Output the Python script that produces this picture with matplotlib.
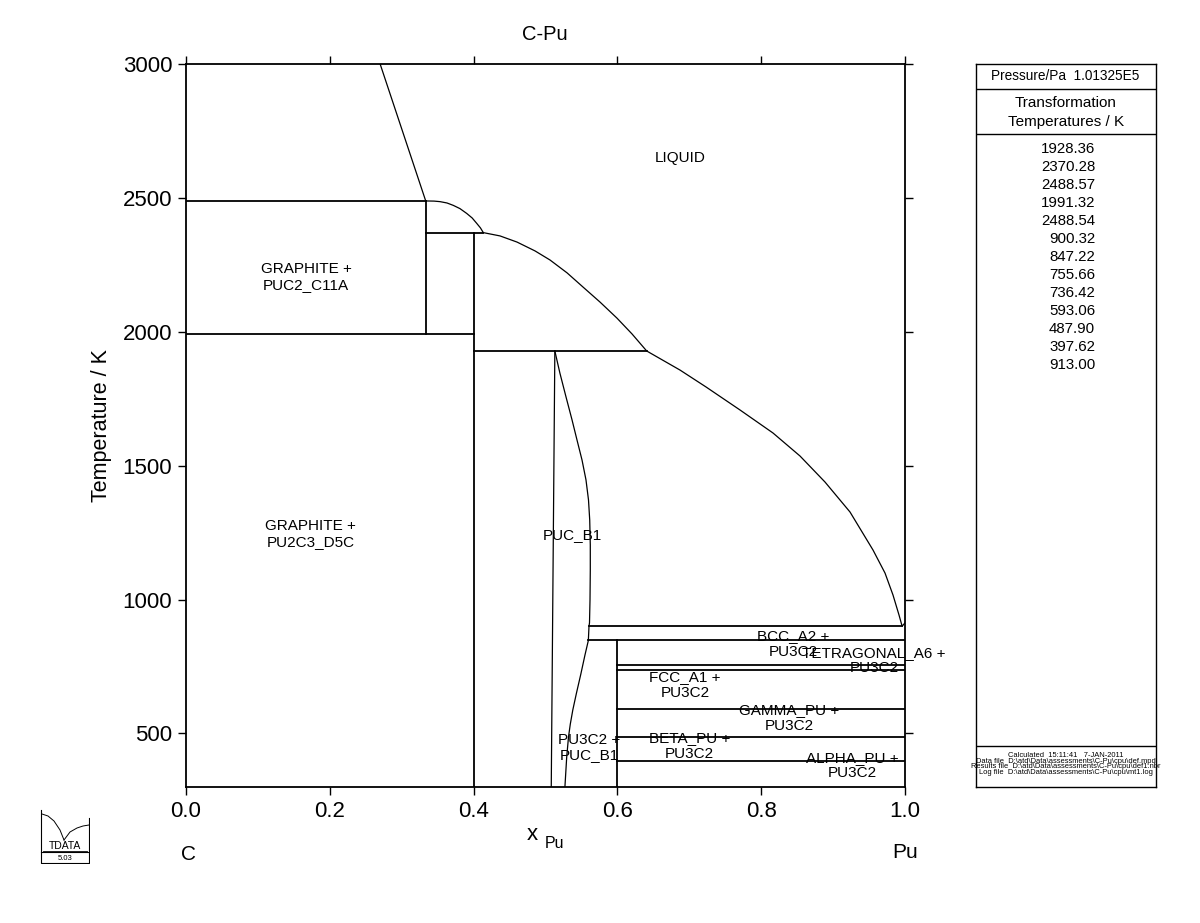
#!/usr/bin/env python3
"""C-Pu phase diagram, redrawn from a Thermo-Calc style plot."""
import matplotlib
matplotlib.use('Agg')
import matplotlib.pyplot as plt

plt.rcParams['font.family'] = ['Liberation Sans', 'DejaVu Sans']

W, H = 1200, 923

# --- phase boundaries (x_Pu, T/K) ---
liq_graphite_x = [0.270, 0.3334]
liq_graphite_T = [3000, 2488.57]

liq_puc2_x = [0.3334, 0.345, 0.3533, 0.3630, 0.3718, 0.3810, 0.3904, 0.3980, 0.4043, 0.4095, 0.4135]
liq_puc2_T = [2488.57, 2488, 2486, 2481, 2472, 2460, 2442, 2425, 2405, 2388, 2370.28]

liq_main_x = [0.4135, 0.4367, 0.4604, 0.4854, 0.5063, 0.530, 0.5522, 0.5758, 0.5994,
              0.6203, 0.6407, 0.6871, 0.7232, 0.7705, 0.8164, 0.8540, 0.8887,
              0.9235, 0.9555, 0.9722, 0.9833, 0.9917, 0.996, 1.0]
liq_main_T = [2370.28, 2358, 2335, 2302, 2268, 2220, 2167, 2111, 2051,
              1992, 1928.36, 1857, 1794, 1708, 1622, 1536, 1439,
              1327, 1185, 1099, 1017, 942, 900.32, 913.0]

puc_left_x = [0.513, 0.508]
puc_left_T = [1928.36, 300]

puc_right_x = [0.513, 0.520, 0.5285, 0.5369, 0.5438, 0.5508, 0.5563, 0.5598, 0.5615,
               0.5623, 0.5623, 0.5619, 0.5612, 0.5605, 0.5596, 0.5549, 0.549, 0.543,
               0.538, 0.5345, 0.532, 0.5295, 0.527]
puc_right_T = [1928.36, 1846, 1757, 1671, 1596, 1521, 1447, 1372, 1297,
               1204, 1111, 999, 913, 900.32, 847.22, 793, 720, 650,
               588, 535, 487, 412, 300]

# invariant lines: (x_start, x_end, T)
hlines = [
    (0.0, 0.3334, 2488.57),
    (0.3334, 0.4135, 2370.28),
    (0.0, 0.4, 1991.32),
    (0.4, 0.6407, 1928.36),
    (0.5605, 0.996, 900.32),
    (0.5596, 1.0, 847.22),
    (0.6, 1.0, 755.66),
    (0.6, 1.0, 736.42),
    (0.6, 1.0, 593.06),
    (0.6, 1.0, 487.90),
    (0.6, 1.0, 397.62),
]
# compound lines: (x, T_low, T_high)
vlines = [
    (0.3334, 1991.32, 2488.57),
    (0.4, 300, 2370.28),
    (0.6, 300, 847.22),
]

# phase field labels
labels = ['LIQUID', 'GRAPHITE +\nPUC2_C11A', 'GRAPHITE +\nPU2C3_D5C', 'PUC_B1',
          'BCC_A2 +\nPU3C2', 'TETRAGONAL_A6 +\nPU3C2', 'FCC_A1 +\nPU3C2',
          'GAMMA_PU +\nPU3C2', 'PU3C2 +\nPUC_B1', 'BETA_PU +\nPU3C2',
          'ALPHA_PU +\nPU3C2']
label_x = [0.688, 0.167, 0.173, 0.538, 0.844, 0.957, 0.694, 0.839, 0.561, 0.700, 0.927]
label_T = [2650, 2205, 1245, 1240, 835, 773, 682, 557, 448, 452, 380]

trans_temps = ['1928.36', '2370.28', '2488.57', '1991.32', '2488.54', '900.32',
               '847.22', '755.66', '736.42', '593.06', '487.90', '397.62', '913.00']

info_lines = ['Calculated  15:11:41   7-JAN-2011',
              'Data file  D:\\atd\\Data\\assessments\\C-Pu\\cpu\\def.mpd',
              'Results file  D:\\atd\\Data\\assessments\\C-Pu\\cpu\\def1.nbr',
              'Log file  D:\\atd\\Data\\assessments\\C-Pu\\cpu\\mt1.log']


def fx(px):
    return px / W


def fy(py):
    return 1 - py / H


fig = plt.figure(figsize=(12, 9.23), dpi=100)
ax = fig.add_axes([fx(186), fy(787), (905 - 186) / W, (787 - 64) / H])

lw_s, lw_c = 1.3, 0.9
ax.plot(liq_graphite_x, liq_graphite_T, color='black', lw=lw_c)
ax.plot(liq_puc2_x, liq_puc2_T, color='black', lw=lw_c)
ax.plot(liq_main_x, liq_main_T, color='black', lw=lw_c)
ax.plot(puc_left_x, puc_left_T, color='black', lw=lw_c)
ax.plot(puc_right_x, puc_right_T, color='black', lw=lw_c)
for x0, x1, t in hlines:
    ax.plot([x0, x1], [t, t], color='black', lw=lw_s)
for x, t0, t1 in vlines:
    ax.plot([x, x], [t0, t1], color='black', lw=lw_s)

for s, x, t in zip(labels, label_x, label_T):
    ax.text(x, t, s, ha='center', va='center', fontsize=11, linespacing=1.15)

ax.set_xlim(0, 1)
ax.set_ylim(300, 3000)
ax.set_xticks([0.0, 0.2, 0.4, 0.6, 0.8, 1.0])
ax.set_xticklabels(['0.0', '0.2', '0.4', '0.6', '0.8', '1.0'])
ax.set_yticks([500, 1000, 1500, 2000, 2500, 3000])
ax.tick_params(direction='out', length=6, width=1, labelsize=16,
               top=True, right=True, pad=4)
for sp in ax.spines.values():
    sp.set_linewidth(1.3)
ax.set_ylabel('Temperature / K', fontsize=15.5)
ax.yaxis.set_label_coords(-0.103, 0.5)

fig.text(fx(545), fy(35), 'C-Pu', ha='center', va='center', fontsize=14.5)
fig.text(fx(532), fy(834), 'x', ha='center', va='center', fontsize=16)
fig.text(fx(554), fy(843), 'Pu', ha='center', va='center', fontsize=11.5)
fig.text(fx(188), fy(855), 'C', ha='center', va='center', fontsize=15)
fig.text(fx(905), fy(853), 'Pu', ha='center', va='center', fontsize=15)

# --- right info panel ---
pl, pr, pt, pb = 976, 1156, 64, 787
pan = fig.add_axes([fx(pl), fy(pb), (pr - pl) / W, (pb - pt) / H])
pan.set_xlim(pl, pr)
pan.set_ylim(pb, pt)
pan.set_xticks([])
pan.set_yticks([])
for sp in pan.spines.values():
    sp.set_linewidth(1.0)
for yy in (89, 134, 746):
    pan.plot([pl, pr], [yy, yy], color='black', lw=1.0)
pan.text(1065, 76.5, 'Pressure/Pa  1.01325E5', ha='center', va='center', fontsize=9.8)
pan.text(1066, 103, 'Transformation', ha='center', va='center', fontsize=11)
pan.text(1066, 122.5, 'Temperatures / K', ha='center', va='center', fontsize=11)
for i, s in enumerate(trans_temps):
    pan.text(1095, 149 + 18 * i, s, ha='right', va='center', fontsize=10.8)
for i, s in enumerate(info_lines):
    pan.text(1066, 755.5 + 5.6 * i, s, ha='center', va='center', fontsize=5.4,
             clip_on=False)

# --- small logo ---
lg = fig.add_axes([fx(40), fy(864), 50 / W, 56 / H])
lg.set_xlim(0, 50)
lg.set_ylim(56, 0)
lg.axis('off')
lg.plot([1, 1, 49, 49], [2, 55, 55, 10], color='black', lw=0.8)
lg.plot([1, 49], [44, 44], color='black', lw=0.8)
lg.plot([2, 8, 14, 20, 24], [6, 8, 13, 22, 32], color='black', lw=0.7)
lg.plot([24, 30, 37, 43, 49], [32, 24, 20, 18, 17], color='black', lw=0.7)
lg.text(25, 38, 'TDATA', ha='center', va='center', fontsize=7.5)
lg.plot([3, 47], [42.5, 42.5], color='black', lw=0.6)
lg.text(25, 50, '5.03', ha='center', va='center', fontsize=5.5)

fig.savefig('out.png', dpi=100)
